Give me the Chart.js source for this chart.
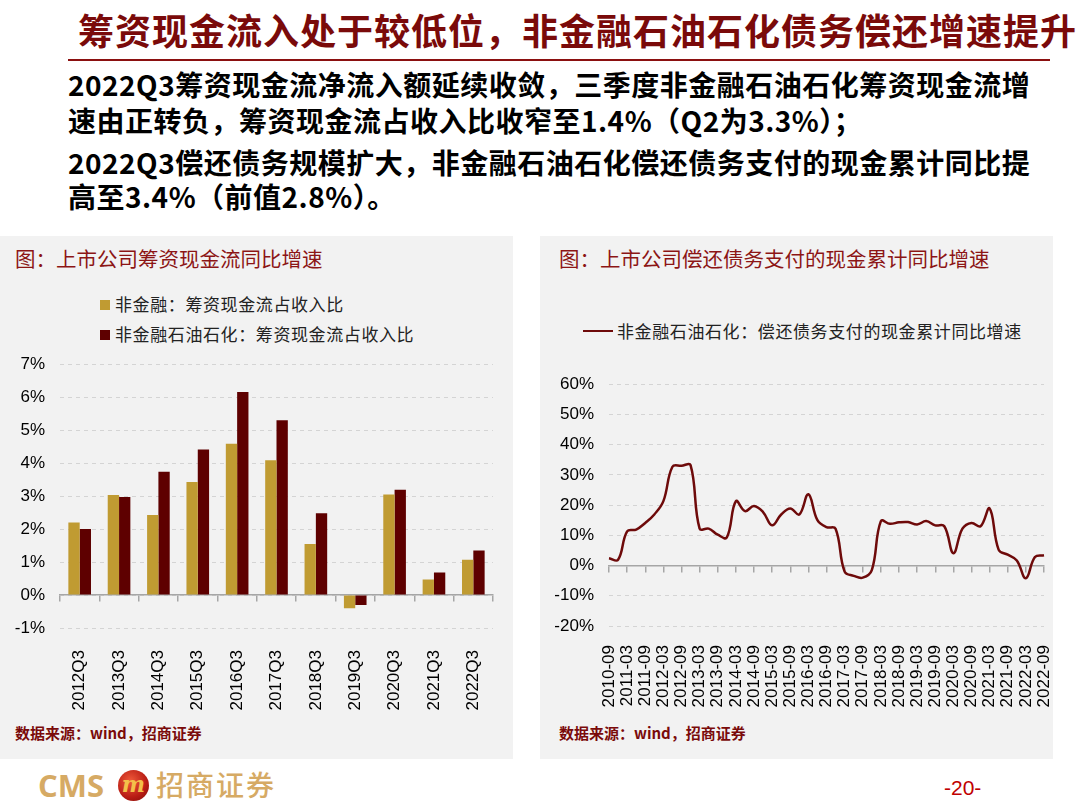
<!DOCTYPE html>
<html>
<head>
<meta charset="utf-8">
<script src="https://cdn.jsdelivr.net/npm/chart.js@4.4.1/dist/chart.umd.min.js"></script>
<style>
  html, body { margin: 0; padding: 0; background: #fff; }
  body { width: 1080px; height: 803px; position: relative; overflow: hidden; font-family: 'Noto Sans CJK SC', sans-serif; }
  .abs { position: absolute; white-space: nowrap; }
  .title { left: 78px; top: 4px; font-size: 36px; font-weight: 700; color: #7a0a0a; letter-spacing: 1px; line-height: 50px; }
  .rule { left: 68px; top: 59px; width: 982px; height: 2px; background: #8b1010; }
  .body-text { left: 68px; font-size: 28px; font-weight: 700; color: #000; line-height: 36px; letter-spacing: 0.5px; }
  .panel { background: #f2f2f2; top: 236px; height: 523px; width: 513px; }
  .panel-title { font-size: 20.5px; color: #8c1515; line-height: 28px; }
  .legend { font-size: 17px; color: #222; line-height: 24px; letter-spacing: 0.6px; }
  .swatch { display: inline-block; width: 10px; height: 10px; margin-right: 5px; vertical-align: 1px; }
  .source { font-size: 15px; font-weight: 700; color: #7a0a0a; line-height: 20px; }
  canvas { position: absolute; }
</style>
</head>
<body>
<div class="abs title">筹资现金流入处于较低位，非金融石油石化债务偿还增速提升</div>
<div class="abs rule"></div>
<div class="abs body-text" style="top:66px">2022Q3筹资现金流净流入额延续收敛，三季度非金融石油石化筹资现金流增</div>
<div class="abs body-text" style="top:102px">速由正转负，筹资现金流占收入比收窄至1.4%（Q2为3.3%）；</div>
<div class="abs body-text" style="top:144px">2022Q3偿还债务规模扩大，非金融石油石化偿还债务支付的现金累计同比提</div>
<div class="abs body-text" style="top:178px">高至3.4%（前值2.8%）。</div>

<div class="abs panel" style="left:0"></div>
<div class="abs panel" style="left:540px"></div>

<div class="abs panel-title" style="left:15px; top:244px">图：上市公司筹资现金流同比增速</div>
<div class="abs panel-title" style="left:559px; top:244px">图：上市公司偿还债务支付的现金累计同比增速</div>

<div class="abs legend" style="left:100px; top:292px"><span class="swatch" style="background:#c09b32"></span>非金融：筹资现金流占收入比</div>
<div class="abs legend" style="left:100px; top:322px"><span class="swatch" style="background:#5e0000"></span>非金融石油石化：筹资现金流占收入比</div>
<div class="abs legend" style="left:583px; top:319px"><span style="display:inline-block; width:30px; height:2px; background:#6e0a0a; vertical-align:6px; margin-right:4px"></span>非金融石油石化：偿还债务支付的现金累计同比增速</div>

<canvas id="bar-chart" style="left:0; top:339px" width="513" height="381"></canvas>
<canvas id="line-chart" style="left:540px; top:359px" width="513" height="358"></canvas>

<div class="abs source" style="left:15px; top:723px">数据来源：wind，招商证券</div>
<div class="abs source" style="left:559px; top:723px">数据来源：wind，招商证券</div>

<div class="abs" style="left:38px; top:765px; font-family:'Open Sans', sans-serif; font-weight:700; font-size:31px; color:#d6aa64; line-height:40px">CMS</div>
<div class="abs" style="left:118px; top:770px; width:31px; height:31px; border-radius:50%; background:radial-gradient(circle at 40% 35%, #f05a3a, #b81c14 60%, #7a0c08); color:#f3c04a; font:italic 700 22px 'DejaVu Serif', serif; text-align:center; line-height:29px">m</div>
<div class="abs" style="left:156px; top:764px; font-size:28px; font-weight:500; color:#d6aa64; line-height:40px; letter-spacing:2px">招商证券</div>
<div class="abs" style="left:944px; top:776px; font-family:'Liberation Sans', sans-serif; font-size:21px; color:#c00000; line-height:24px">-20-</div>

<script>
const barLabels = ['2012Q3', '2013Q3', '2014Q3', '2015Q3', '2016Q3', '2017Q3', '2018Q3', '2019Q3', '2020Q3', '2021Q3', '2022Q3'];
const nonFinancialShare = [2.2, 3.03, 2.43, 3.43, 4.59, 4.09, 1.55, -0.4, 3.05, 0.47, 1.07];
const nonFinExOilShare = [2.0, 2.97, 3.74, 4.41, 6.16, 5.3, 2.48, -0.3, 3.19, 0.68, 1.35];
const barTicks = { min: -1, max: 7, step: 1 };

const lineLabels = [
  '2010-09', '2010-12', '2011-03', '2011-06', '2011-09', '2011-12', '2012-03', '2012-06', '2012-09', '2012-12',
  '2013-03', '2013-06', '2013-09', '2013-12', '2014-03', '2014-06', '2014-09', '2014-12', '2015-03', '2015-06',
  '2015-09', '2015-12', '2016-03', '2016-06', '2016-09', '2016-12', '2017-03', '2017-06', '2017-09', '2017-12',
  '2018-03', '2018-06', '2018-09', '2018-12', '2019-03', '2019-06', '2019-09', '2019-12', '2020-03', '2020-06',
  '2020-09', '2020-12', '2021-03', '2021-06', '2021-09', '2021-12', '2022-03', '2022-06', '2022-09'
];
const debtRepayGrowth = [
  2.4, 1.9, 11.3, 11.9, 14.1, 16.9, 21.3, 32.7, 33.0, 33.2,
  12.2, 12.2, 10.2, 9.3, 21.3, 18.0, 19.7, 17.7, 13.3, 16.9,
  18.9, 16.9, 23.6, 15.0, 12.7, 12.2, -2.0, -3.4, -4.0, -1.5,
  14.7, 13.8, 14.3, 14.4, 13.6, 14.7, 13.3, 13.0, 4.1, 12.2,
  14.1, 13.0, 18.9, 5.2, 3.6, 1.7, -4.2, 2.8, 3.4
];
const lineTicks = { min: -20, max: 60, step: 10 };

Chart.defaults.font.family = "'Liberation Sans', Arial, sans-serif";
Chart.defaults.color = '#000';
Chart.defaults.animation = false;

const axisGrey = '#a6a6a6';
const gridGrey = '#d4d4d4';

function everyOtherTick(scale) {
  scale.ticks = scale.ticks.filter((t, i) => i % 2 === 0);
}

function zeroAxis(everyOther) {
  return {
    type: 'category',
    position: { y: 0 },
    offset: !everyOther,
    grid: { display: true, drawOnChartArea: false, drawTicks: true, tickLength: 6, color: axisGrey, lineWidth: 1.5, offset: !everyOther },
    border: { display: true, color: axisGrey, width: 1.5 },
    ticks: { display: false, autoSkip: false },
    afterBuildTicks: everyOther ? everyOtherTick : undefined
  };
}

function labelAxis(everyOther, height, padding) {
  return {
    type: 'category',
    position: 'bottom',
    offset: !everyOther,
    grid: { display: false },
    border: { display: false },
    ticks: { autoSkip: false, minRotation: 90, maxRotation: 90, padding: padding, font: { size: 17 }, color: '#000' },
    afterBuildTicks: everyOther ? everyOtherTick : undefined,
    afterFit: (scale) => {
      scale.height = height;
      scale.paddingLeft = 0;
      scale.paddingRight = 0;
    }
  };
}

function valueAxis(range, width) {
  return {
    min: range.min,
    max: range.max,
    grid: { color: gridGrey, lineWidth: 1, drawTicks: false },
    border: { display: false, dash: [4, 4] },
    ticks: { stepSize: range.step, padding: 15, font: { size: 17 }, color: '#000', callback: (v) => v + '%' },
    afterFit: (scale) => { scale.width = width; }
  };
}

new Chart(document.getElementById('bar-chart'), {
  type: 'bar',
  data: {
    labels: barLabels,
    datasets: [
      { label: '非金融：筹资现金流占收入比', data: nonFinancialShare, backgroundColor: '#c09b32', xAxisID: 'x' },
      { label: '非金融石油石化：筹资现金流占收入比', data: nonFinExOilShare, backgroundColor: '#5e0000', xAxisID: 'x' }
    ]
  },
  options: {
    responsive: false,
    layout: { padding: { top: 9, right: 20, left: 0, bottom: 0 } },
    categoryPercentage: 0.575,
    barPercentage: 1.0,
    plugins: { legend: { display: false }, tooltip: { enabled: false } },
    scales: {
      x: zeroAxis(false),
      x2: labelAxis(false, 92, 14),
      y: valueAxis(barTicks, 60)
    }
  }
});

new Chart(document.getElementById('line-chart'), {
  type: 'line',
  data: {
    labels: lineLabels,
    datasets: [
      {
        label: '非金融石油石化：偿还债务支付的现金累计同比增速',
        data: debtRepayGrowth,
        borderColor: '#6e0a0a',
        borderWidth: 2.5,
        pointRadius: 0,
        tension: 0.4,
        fill: false
      }
    ]
  },
  options: {
    responsive: false,
    layout: { padding: { top: 11, right: 9, left: 0, bottom: 0 } },
    plugins: { legend: { display: false }, tooltip: { enabled: false } },
    scales: {
      x: zeroAxis(true),
      x2: labelAxis(true, 91, 11),
      y: valueAxis(lineTicks, 69)
    }
  }
});
</script>
</body>
</html>
